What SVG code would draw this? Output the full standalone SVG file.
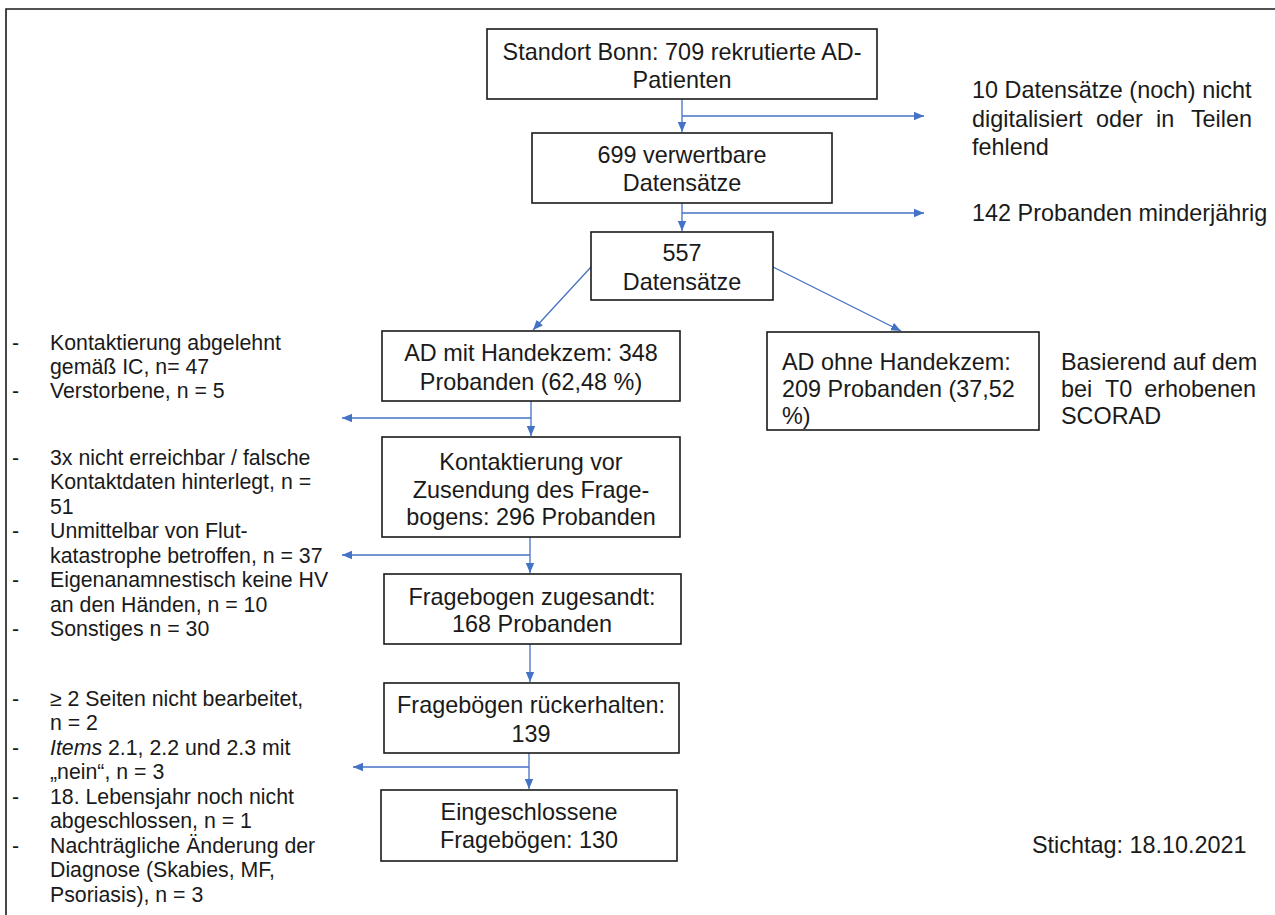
<svg xmlns="http://www.w3.org/2000/svg" width="1275" height="915" viewBox="0 0 1275 915">
<style>
text{font-family:"Liberation Sans",Arial,sans-serif;fill:#1a1a1a}
.b{font-size:23.4px}
.c{text-anchor:middle}
.l{font-size:21.3px}
.box{fill:#fff;stroke:#1a1a1a;stroke-width:1.6}
.con{stroke:#4472c4;stroke-width:1.3;fill:none}
</style>
<defs>
<marker id="ah" markerUnits="userSpaceOnUse" markerWidth="12" markerHeight="10" refX="10" refY="5" orient="auto">
<path d="M0,0.8 L10,5 L0,9.2 Z" fill="#4472c4"/>
</marker>
</defs>
<rect width="1275" height="915" fill="#fff"/>
<path d="M6,915 V9 H1275" fill="none" stroke="#1a1a1a" stroke-width="1.6"/>
<g id="connectors">
<path class="con" d="M682,99 V132" marker-end="url(#ah)"/>
<path class="con" d="M682,116 H924" marker-end="url(#ah)"/>
<path class="con" d="M682,203 V231" marker-end="url(#ah)"/>
<path class="con" d="M682,213 H924" marker-end="url(#ah)"/>
<path class="con" d="M591,267 L533,330" marker-end="url(#ah)"/>
<path class="con" d="M773,267 L901,331" marker-end="url(#ah)"/>
<path class="con" d="M531,401 V436" marker-end="url(#ah)"/>
<path class="con" d="M531,418 H342" marker-end="url(#ah)"/>
<path class="con" d="M530,537 V573" marker-end="url(#ah)"/>
<path class="con" d="M530,555 H342" marker-end="url(#ah)"/>
<path class="con" d="M530,644 V682" marker-end="url(#ah)"/>
<path class="con" d="M529,753 V789" marker-end="url(#ah)"/>
<path class="con" d="M529,767 H353" marker-end="url(#ah)"/>
</g>
<g id="n1"><rect class="box" x="487" y="29" width="390" height="70"/>
<text class="b c" x="682" y="60">Standort Bonn: 709 rekrutierte AD-</text>
<text class="b c" x="682" y="88">Patienten</text></g>
<g id="n2"><rect class="box" x="532" y="133" width="300" height="70"/>
<text class="b c" x="682" y="163">699 verwertbare</text>
<text class="b c" x="682" y="191">Datensätze</text></g>
<g id="n3"><rect class="box" x="591" y="232" width="182" height="68"/>
<text class="b c" x="682" y="261">557</text>
<text class="b c" x="682" y="290">Datensätze</text></g>
<g id="n4"><rect class="box" x="382" y="331" width="298" height="70"/>
<text class="b c" x="531" y="361">AD mit Handekzem: 348</text>
<text class="b c" x="531" y="390">Probanden (62,48 %)</text></g>
<g id="n5"><rect class="box" x="767" y="332" width="272" height="98"/>
<text class="b" x="782" y="370">AD ohne Handekzem:</text>
<text class="b" x="782" y="397">209 Probanden (37,52</text>
<text class="b" x="782" y="424">%)</text></g>
<g id="n6"><rect class="box" x="382" y="437" width="298" height="100"/>
<text class="b c" x="531" y="470">Kontaktierung vor</text>
<text class="b c" x="531" y="498">Zusendung des Frage-</text>
<text class="b c" x="531" y="525">bogens: 296 Probanden</text></g>
<g id="n7"><rect class="box" x="384" y="574" width="297" height="70"/>
<text class="b c" x="532" y="605">Fragebogen zugesandt:</text>
<text class="b c" x="532" y="632">168 Probanden</text></g>
<g id="n8"><rect class="box" x="384" y="683" width="295" height="70"/>
<text class="b c" x="531" y="713">Fragebögen rückerhalten:</text>
<text class="b c" x="531" y="742">139</text></g>
<g id="n9"><rect class="box" x="381" y="790" width="296" height="71"/>
<text class="b c" x="529" y="820">Eingeschlossene</text>
<text class="b c" x="529" y="848">Fragebögen: 130</text></g>
<g id="t-excl1">
<text class="b" x="972" y="98">10 Datensätze (noch) nicht</text>
<text class="b" x="972" y="127">digitalisiert</text><text class="b" x="1096" y="127">oder</text><text class="b" x="1156" y="127">in</text><text class="b" x="1252" y="127" text-anchor="end">Teilen</text>
<text class="b" x="972" y="155">fehlend</text>
</g>
<g id="t-excl2"><text class="b" x="972" y="221">142 Probanden minderjährig</text></g>
<g id="t-note">
<text class="b" x="1061" y="370">Basierend auf dem</text>
<text class="b" x="1061" y="397">bei</text><text class="b" x="1105" y="397">T0</text><text class="b" x="1256" y="397" text-anchor="end">erhobenen</text>
<text class="b" x="1061" y="424">SCORAD</text>
</g>
<g id="t-date"><text class="b" x="1032" y="853">Stichtag: 18.10.2021</text></g>
<g id="t-list1">
<text class="l" x="12" y="350">-</text><text class="l" x="50" y="350">Kontaktierung abgelehnt</text>
<text class="l" x="50" y="374">gemäß IC, n= 47</text>
<text class="l" x="12" y="398">-</text><text class="l" x="50" y="398">Verstorbene, n = 5</text>
</g>
<g id="t-list2">
<text class="l" x="12" y="464.5">-</text><text class="l" x="50" y="464.5">3x nicht erreichbar / falsche</text>
<text class="l" x="50" y="489">Kontaktdaten hinterlegt, n =</text>
<text class="l" x="50" y="513.5">51</text>
<text class="l" x="12" y="538">-</text><text class="l" x="50" y="538">Unmittelbar von Flut-</text>
<text class="l" x="50" y="562.5">katastrophe betroffen, n = 37</text>
<text class="l" x="12" y="587">-</text><text class="l" x="50" y="587">Eigenanamnestisch keine HV</text>
<text class="l" x="50" y="611.5">an den Händen, n = 10</text>
<text class="l" x="12" y="636">-</text><text class="l" x="50" y="636">Sonstiges n = 30</text>
</g>
<g id="t-list3">
<text class="l" x="12" y="705.5">-</text><text class="l" x="50" y="705.5">≥ 2 Seiten nicht bearbeitet,</text>
<text class="l" x="50" y="730">n = 2</text>
<text class="l" x="12" y="754.5">-</text><text class="l" x="50" y="754.5"><tspan font-style="italic">Items</tspan> 2.1, 2.2 und 2.3 mit</text>
<text class="l" x="50" y="779">„nein“, n = 3</text>
<text class="l" x="12" y="803.5">-</text><text class="l" x="50" y="803.5">18. Lebensjahr noch nicht</text>
<text class="l" x="50" y="828">abgeschlossen, n = 1</text>
<text class="l" x="12" y="852.5">-</text><text class="l" x="50" y="852.5">Nachträgliche Änderung der</text>
<text class="l" x="50" y="877">Diagnose (Skabies, MF,</text>
<text class="l" x="50" y="901.5">Psoriasis), n = 3</text>
</g>
</svg>
